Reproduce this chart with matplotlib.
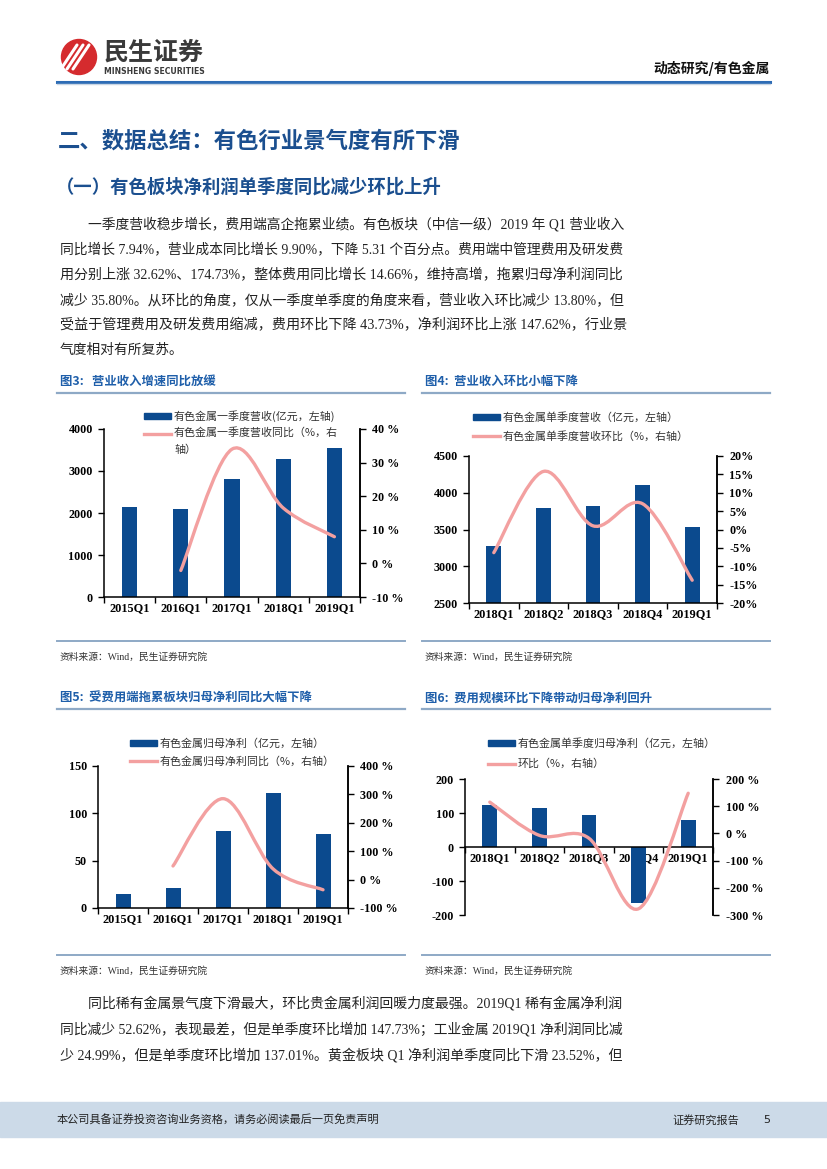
import numpy as np
import matplotlib
matplotlib.use("Agg")
import matplotlib.pyplot as plt
from matplotlib.path import Path
from matplotlib.patches import PathPatch, Rectangle, Circle
from matplotlib.lines import Line2D

# ---- data ----
fig3_cats = ["2015Q1", "2016Q1", "2017Q1", "2018Q1", "2019Q1"]
fig3_revenue = [2145, 2100, 2820, 3285, 3545]
fig3_yoy = [None, -2.1, 34.0, 16.5, 7.94]

fig4_cats = ["2018Q1", "2018Q2", "2018Q3", "2018Q4", "2019Q1"]
fig4_revenue = [3275, 3795, 3825, 4100, 3535]
fig4_qoq = [-6.3, 15.8, 1.0, 7.0, -13.8]

fig5_cats = ["2015Q1", "2016Q1", "2017Q1", "2018Q1", "2019Q1"]
fig5_profit = [14.5, 21.3, 81.5, 121.5, 78.0]
fig5_yoy = [None, 48, 285, 38, -35.8]

fig6_cats = ["2018Q1", "2018Q2", "2018Q3", "2018Q4", "2019Q1"]
fig6_profit = [123, 114, 93, -165, 78]
fig6_qoq = [115, -7.3, -18, -277, 147.6]

# ---- style ----
BAR = "#0B4A8E"
LINE = "#F3A0A0"
TITLE_BLUE = "#1F5FAA"
HEAD_BLUE = "#1B4F8F"
RULE = "#8EA9C6"
CJK = ["Noto Sans CJK SC", "DejaVu Sans"]
MIX = ["Liberation Serif", "Noto Sans CJK SC"]
NUM = "Liberation Serif"

W, H = 827, 1169
fig = plt.figure(figsize=(8.27, 11.69), dpi=100)
renderer = fig.canvas.get_renderer()


def fx(x):
    return x / W


def fy(y):
    return 1 - y / H


def rect(x0, y0, x1, y1):
    return [x0 / W, 1 - y1 / H, (x1 - x0) / W, (y1 - y0) / H]


def txt(x, y, s, size, family=CJK, **kw):
    kw.setdefault("va", "center")
    return fig.text(fx(x), fy(y), s, fontsize=size, family=family, **kw)


def para_line(x, y, s, size, right=None):
    t = txt(x, y, s, size, family=MIX, color="#222222")
    if right is not None:
        # stretch the line a little so it ends at the right margin
        w = t.get_window_extent(renderer).width
        scale = min(max((right - x) / w, 0.94), 1.06)
        t.set_fontsize(size * scale)
    return t


def hline(x0, x1, y, color, lw):
    fig.add_artist(Line2D([fx(x0), fx(x1)], [fy(y), fy(y)], color=color, lw=lw,
                          transform=fig.transFigure))


def smooth_path(xs, ys):
    # excel style smoothed line through the points
    pts = list(zip(xs, ys))
    n = len(pts)
    verts = [pts[0]]
    codes = [Path.MOVETO]
    for i in range(n - 1):
        p0 = pts[max(i - 1, 0)]
        p1 = pts[i]
        p2 = pts[i + 1]
        p3 = pts[min(i + 2, n - 1)]
        c1 = (p1[0] + (p2[0] - p0[0]) / 6, p1[1] + (p2[1] - p0[1]) / 6)
        c2 = (p2[0] - (p3[0] - p1[0]) / 6, p2[1] - (p3[1] - p1[1]) / 6)
        verts += [c1, c2, p2]
        codes += [Path.CURVE4] * 3
    return Path(verts, codes)


def draw_chart(box, cats, bars, line, ylim, yticks, y2lim, y2ticks, pct_fmt, zero_axis=False):
    ax = fig.add_axes(rect(*box))
    if zero_axis:
        ax.spines["bottom"].set_position(("data", 0))
    x = np.arange(len(cats))
    ax.bar(x, bars, width=0.3, color=BAR, zorder=2)
    ax.set_xlim(-0.5, len(cats) - 0.5)
    ax.set_ylim(*ylim)
    ax.set_yticks(yticks)
    ax.set_yticklabels([str(v) for v in yticks], fontfamily=NUM, fontweight="bold", fontsize=8.7)
    ax.set_xticks(x)
    ax.set_xticklabels(cats, fontfamily=NUM, fontweight="bold", fontsize=8.8)
    ax.set_xticks(np.arange(-0.5, len(cats)), minor=True)
    ax.tick_params(axis="x", which="major", length=0, pad=4)
    ax.tick_params(axis="x", which="minor", length=4, width=1.0, direction="out")
    ax.tick_params(axis="y", length=4, width=1.0, direction="out", pad=4)
    ax.spines["top"].set_visible(False)
    for s in ["left", "bottom", "right"]:
        ax.spines[s].set_linewidth(1.1)
    ax.patch.set_alpha(0)

    ax2 = ax.twinx()
    ax2.set_ylim(*y2lim)
    ax2.set_yticks(y2ticks)
    ax2.set_yticklabels([pct_fmt.format(v) for v in y2ticks], fontfamily=NUM,
                        fontweight="bold", fontsize=8.7)
    ax2.tick_params(axis="y", length=4, width=1.0, direction="out", pad=5)
    for s in ["top", "left", "bottom"]:
        ax2.spines[s].set_visible(False)
    ax2.spines["right"].set_linewidth(1.1)
    lx = [xi for xi, v in zip(x, line) if v is not None]
    ly = [v for v in line if v is not None]
    ax2.add_patch(PathPatch(smooth_path(lx, ly), fill=False, ec=LINE, lw=2.4,
                            capstyle="round", joinstyle="round", zorder=3))
    ax2.set_ylim(*y2lim)
    return ax


def legend(x, y_bar, y_line, bar_text, line_text, size=7.9):
    fig.add_artist(Rectangle((fx(x), fy(y_bar + 3)), 27 / W, 6 / H, color=BAR,
                             transform=fig.transFigure))
    fig.add_artist(Line2D([fx(x), fx(x + 27)], [fy(y_line), fy(y_line)], color=LINE,
                          lw=2.4, transform=fig.transFigure))
    txt(x + 30, y_bar, bar_text, size, color="#333333")
    if "\n" in line_text:
        txt(x + 30, y_line - 7, line_text, size, color="#333333", linespacing=1.75, va="top")
    else:
        txt(x + 30, y_line, line_text, size, color="#333333")


# ---- header ----
logo = fig.add_axes(rect(58, 37, 100, 77))
logo.set_xlim(0, 42)
logo.set_ylim(0, 40)
logo.axis("off")
logo.add_patch(Circle((21, 20), 17.5, color="#D52B2E"))
for off in [-6, 0, 6]:
    logo.plot([9 + off, 25 + off], [8, 32], color="white", lw=2.2, solid_capstyle="round")
txt(104, 53, "民生证券", 18, weight="bold", color="#3A3A3A")
txt(104, 71, "MINSHENG SECURITIES", 5.6, family=["DejaVu Sans"], weight="bold", color="#3A3A3A")
txt(770, 68, "动态研究/有色金属", 10, weight="bold", color="#111111", ha="right")
hline(57, 770, 81.5, "#2D6CB5", 2.2)
hline(57, 770, 83.5, "#C9D6E4", 1.0)

# ---- section headings ----
txt(58, 141, "二、数据总结：有色行业景气度有所下滑", 16.1, weight="bold", color=HEAD_BLUE)
txt(56, 187, "（一）有色板块净利润单季度同比减少环比上升", 13.2, weight="bold", color=HEAD_BLUE)

para1 = [
    "一季度营收稳步增长，费用端高企拖累业绩。有色板块（中信一级）2019 年 Q1 营业收入",
    "同比增长 7.94%，营业成本同比增长 9.90%，下降 5.31 个百分点。费用端中管理费用及研发费",
    "用分别上涨 32.62%、174.73%，整体费用同比增长 14.66%，维持高增，拖累归母净利润同比",
    "减少 35.80%。从环比的角度，仅从一季度单季度的角度来看，营业收入环比减少 13.80%，但",
    "受益于管理费用及研发费用缩减，费用环比下降 43.73%，净利润环比上涨 147.62%，行业景",
    "气度相对有所复苏。",
]
for i, line in enumerate(para1):
    para_line(88 if i == 0 else 60, 224 + 25.3 * i, line, 9.9,
              right=None if i == len(para1) - 1 else 625)

# ---- chart titles and rules ----
txt(60, 381, "图3:   营业收入增速同比放缓", 8.9, weight="bold", color=TITLE_BLUE)
txt(425, 381, "图4:  营业收入环比小幅下降", 8.9, weight="bold", color=TITLE_BLUE)
hline(57, 405, 393, RULE, 1.6)
hline(422, 770, 393, RULE, 1.6)

draw_chart((104, 429, 360, 597), fig3_cats, fig3_revenue, fig3_yoy,
           (0, 4000), [0, 1000, 2000, 3000, 4000], (-10, 40), [-10, 0, 10, 20, 30, 40], "{} %")
legend(144, 416, 434, "有色金属一季度营收(亿元，左轴)", "有色金属一季度营收同比（%，右\n轴）")

draw_chart((469, 456, 717, 603), fig4_cats, fig4_revenue, fig4_qoq,
           (2500, 4500), [2500, 3000, 3500, 4000, 4500], (-20, 20),
           [-20, -15, -10, -5, 0, 5, 10, 15, 20], "{}%")
legend(473, 417, 436, "有色金属单季度营收（亿元，左轴）", "有色金属单季度营收环比（%，右轴）")

hline(57, 405, 641, RULE, 1.4)
hline(422, 770, 641, RULE, 1.4)
txt(60, 657, "资料来源：Wind，民生证券研究院", 7.0, family=MIX, color="#333333")
txt(425, 657, "资料来源：Wind，民生证券研究院", 7.0, family=MIX, color="#333333")

txt(60, 698, "图5:  受费用端拖累板块归母净利同比大幅下降", 8.9, weight="bold", color=TITLE_BLUE)
txt(425, 698, "图6:  费用规模环比下降带动归母净利回升", 8.9, weight="bold", color=TITLE_BLUE)
hline(57, 405, 709, RULE, 1.6)
hline(422, 770, 709, RULE, 1.6)

draw_chart((98, 766, 348, 908), fig5_cats, fig5_profit, fig5_yoy,
           (0, 150), [0, 50, 100, 150], (-100, 400), [-100, 0, 100, 200, 300, 400], "{} %")
legend(130, 743, 761, "有色金属归母净利（亿元，左轴）", "有色金属归母净利同比（%，右轴）")

draw_chart((465, 779, 713, 915), fig6_cats, fig6_profit, fig6_qoq,
           (-200, 200), [-200, -100, 0, 100, 200], (-300, 200),
           [-300, -200, -100, 0, 100, 200], "{} %", zero_axis=True)
legend(488, 743, 764, "有色金属单季度归母净利（亿元，左轴）", "环比（%，右轴）")

hline(57, 405, 955, RULE, 1.4)
hline(422, 770, 955, RULE, 1.4)
txt(60, 971, "资料来源：Wind，民生证券研究院", 7.0, family=MIX, color="#333333")
txt(425, 971, "资料来源：Wind，民生证券研究院", 7.0, family=MIX, color="#333333")

para2 = [
    "同比稀有金属景气度下滑最大，环比贵金属利润回暖力度最强。2019Q1 稀有金属净利润",
    "同比减少 52.62%，表现最差，但是单季度环比增加 147.73%；工业金属 2019Q1 净利润同比减",
    "少 24.99%，但是单季度环比增加 137.01%。黄金板块 Q1 净利润单季度同比下滑 23.52%，但",
]
for i, line in enumerate(para2):
    para_line(88 if i == 0 else 60, 1003 + 26 * i, line, 9.9, right=625)

# ---- footer ----
fig.add_artist(Rectangle((0, fy(1137)), 1, 35 / H, color="#CCDAE8", transform=fig.transFigure))
txt(57, 1120, "本公司具备证券投资咨询业务资格，请务必阅读最后一页免责声明", 8.0, color="#222222")
txt(672, 1120, "证券研究报告", 8.0, color="#222222")
txt(763, 1120, "5", 8.0, family=["DejaVu Sans"], color="#222222")

fig.savefig("out.png", dpi=100)
